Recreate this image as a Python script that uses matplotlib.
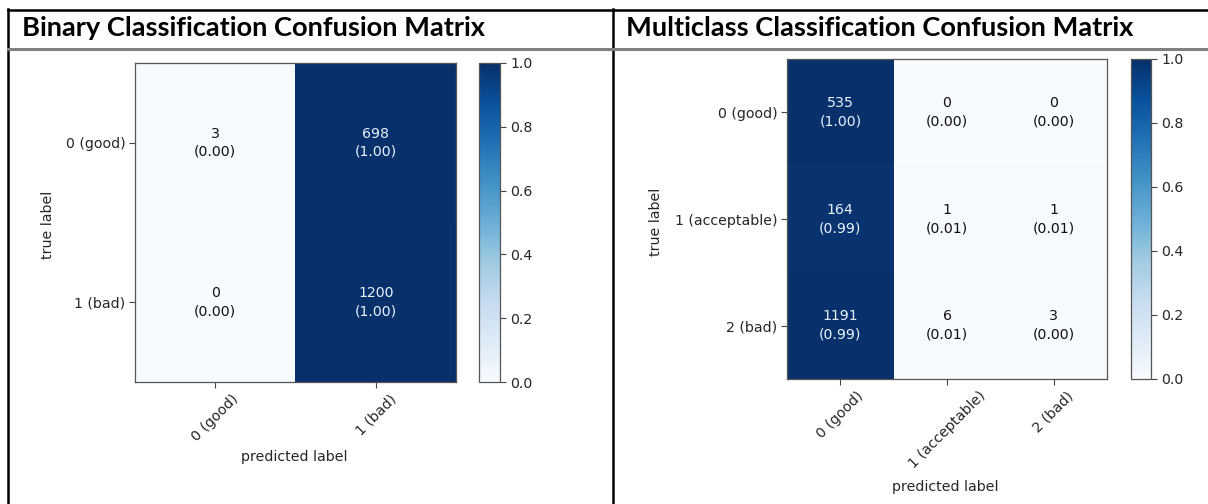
import matplotlib
matplotlib.use("Agg")
import matplotlib.pyplot as plt
import numpy as np
from matplotlib.lines import Line2D

# Confusion matrix counts
binary_labels = ["0 (good)", "1 (bad)"]
binary_counts = np.array([[3, 698],
                          [0, 1200]])

multi_labels = ["0 (good)", "1 (acceptable)", "2 (bad)"]
multi_counts = np.array([[535, 0, 0],
                         [164, 1, 1],
                         [1191, 6, 3]])

panel_titles = ["Binary Classification Confusion Matrix",
                "Multiclass Classification Confusion Matrix"]

W, H = 1208, 504
fig = plt.figure(figsize=(W / 100, H / 100), dpi=100)
fig.patch.set_facecolor("white")


def box(x0, y0, x1, y1):
    """Pixel box (left, top, right, bottom) -> figure-fraction rect."""
    return [x0 / W, 1 - y1 / H, (x1 - x0) / W, (y1 - y0) / H]


def hline(y, x0, x1, color, lw):
    fig.add_artist(Line2D([x0 / W, x1 / W], [1 - y / H, 1 - y / H],
                          color=color, lw=lw, transform=fig.transFigure))


def vline(x, y0, y1, color, lw):
    fig.add_artist(Line2D([x / W, x / W], [1 - y0 / H, 1 - y1 / H],
                          color=color, lw=lw, transform=fig.transFigure))


# Table frame
hline(9.5, 8, W, "black", 1.8)
vline(8, 9, H, "black", 1.8)
vline(613, 9, H, "black", 1.8)
hline(49, 8, W, "#808080", 2.2)

# Header cells
fig.text(22 / W, 1 - 28 / H, panel_titles[0], fontsize=19.6,
         fontweight="bold", family="Lato", va="center", ha="left")
fig.text(626 / W, 1 - 28 / H, panel_titles[1], fontsize=19.6,
         fontweight="bold", family="Lato", va="center", ha="left")

text_col = "#262626"
fs = 10.2
cell_fs = 10.2


def draw_cm(counts, labels, ax_rect, cb_rect, ylab_xy, xlab_xy):
    norm = counts / counts.sum(axis=1, keepdims=True)
    ax = fig.add_axes(ax_rect)
    im = ax.imshow(norm, cmap="Blues", vmin=0, vmax=1, aspect="auto",
                   interpolation="nearest")
    n = len(labels)
    for i in range(n):
        for j in range(n):
            c = "#e8f0ff" if norm[i, j] > 0.5 else "#111111"
            ax.text(j, i, f"{counts[i, j]}\n({norm[i, j]:.2f})",
                    ha="center", va="center", color=c, fontsize=cell_fs,
                    linespacing=1.4)
    ax.set_xticks(range(n))
    ax.set_yticks(range(n))
    ax.set_xticklabels(labels, rotation=45, fontsize=fs, color=text_col)
    ax.set_yticklabels(labels, fontsize=fs, color=text_col)
    ax.tick_params(length=4, width=0.8, color="#444444", pad=3)
    for s in ax.spines.values():
        s.set_color("#555555")
        s.set_linewidth(0.9)
    ax.set_xlabel("predicted label", fontsize=fs, color=text_col)
    ax.set_ylabel("true label", fontsize=fs, color=text_col)
    ax.xaxis.set_label_coords(*xlab_xy)
    ax.yaxis.set_label_coords(*ylab_xy)
    ax.xaxis.label.set_va("center")
    ax.yaxis.label.set_va("center")

    cax = fig.add_axes(cb_rect)
    cb = fig.colorbar(im, cax=cax, ticks=[0, 0.2, 0.4, 0.6, 0.8, 1.0])
    cb.ax.tick_params(labelsize=fs, length=4, width=0.8, color="#444444",
                      labelcolor=text_col)
    cb.outline.set_edgecolor("#555555")
    cb.outline.set_linewidth(0.9)
    return ax


draw_cm(binary_counts, binary_labels,
        box(135, 63, 456, 382), box(479, 63, 500, 382),
        (-0.271, 0.491), (0.495, -0.236))

draw_cm(multi_counts, multi_labels,
        box(787, 59, 1107, 379), box(1131, 59, 1151, 379),
        (-0.409, 0.491), (0.495, -0.336))

fig.savefig("out.png", dpi=100, facecolor="white")
